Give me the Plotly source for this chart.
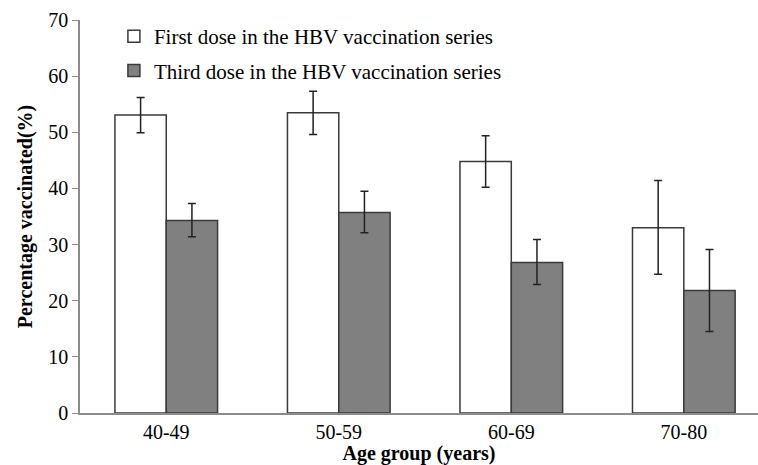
import plotly.graph_objects as go

categories = ["40-49", "50-59", "60-69", "70-80"]
first_dose = [53.1, 53.5, 44.8, 33.0]
first_err_plus = [3.1, 3.8, 4.6, 8.4]
first_err_minus = [3.2, 3.9, 4.6, 8.3]
third_dose = [34.3, 35.7, 26.8, 21.8]
third_err_plus = [3.0, 3.8, 4.1, 7.3]
third_err_minus = [2.9, 3.6, 3.9, 7.3]

font_family = "Liberation Serif, Times New Roman, serif"

fig = go.Figure()
fig.add_trace(go.Bar(
    x=categories, y=first_dose, name="First dose in the HBV vaccination series",
    legendgroup="a",
    marker=dict(color="white", line=dict(color="#3a3a3a", width=1.5)),
    error_y=dict(type="data", symmetric=False, array=first_err_plus,
                 arrayminus=first_err_minus, color="#222222", thickness=1.5, width=4),
))
fig.add_trace(go.Bar(
    x=categories, y=third_dose, name="Third dose in the HBV vaccination series",
    legendgroup="b",
    marker=dict(color="#808080", line=dict(color="#3a3a3a", width=1.5)),
    error_y=dict(type="data", symmetric=False, array=third_err_plus,
                 arrayminus=third_err_minus, color="#222222", thickness=1.5, width=4),
))

fig.update_layout(
    width=758, height=465,
    margin=dict(l=80, r=0, t=20, b=52),
    plot_bgcolor="white", paper_bgcolor="white",
    barmode="group", bargap=0.405, bargroupgap=0,
    font=dict(family=font_family, size=20, color="black"),
    showlegend=True,
    legend=dict(x=0.05, y=1.01, xanchor="left", yanchor="top",
                bgcolor="rgba(0,0,0,0)", tracegroupgap=4,
                font=dict(family=font_family, size=21, color="black"),
                itemwidth=30),
    xaxis=dict(
        range=[-0.5, 3.43], showline=True, linecolor="#8c8c8c", linewidth=1.5,
        ticks="", showgrid=False, zeroline=False,
        tickfont=dict(family=font_family, size=20, color="black"),
        title=dict(text="<b>Age group (years)</b>", standoff=0,
                   font=dict(family=font_family, size=20, color="black")),
    ),
    yaxis=dict(
        range=[0, 70], dtick=10, showline=True, linecolor="#8c8c8c", linewidth=1.5,
        ticks="outside", ticklen=6, tickcolor="#8c8c8c", showgrid=False, zeroline=False,
        tickfont=dict(family=font_family, size=20, color="black"),
        title=dict(text="<b>Percentage vaccinated(%)</b>", standoff=10,
                   font=dict(family=font_family, size=20, color="black")),
    ),
)

fig.write_html("out.html", config={"displayModeBar": False},
               post_script="document.body.style.margin='0';document.body.style.overflow='hidden';")
